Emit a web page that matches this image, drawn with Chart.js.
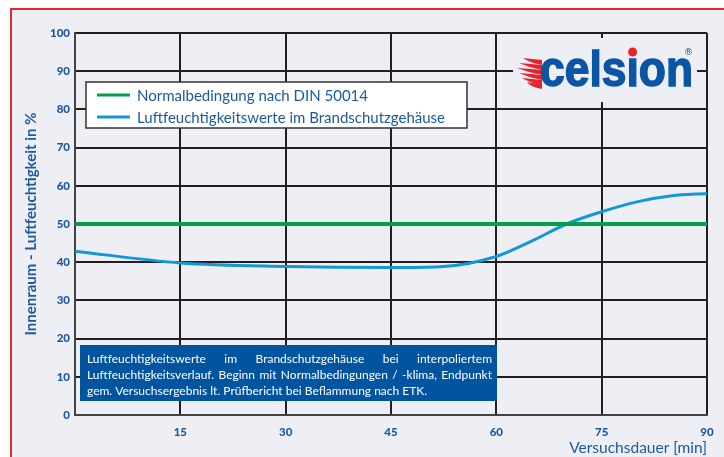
<!DOCTYPE html>
<html>
<head>
<meta charset="utf-8">
<script src="https://cdn.jsdelivr.net/npm/chart.js@4.4.1/dist/chart.umd.min.js"></script>
<style>
  html, body { margin: 0; padding: 0; background: #fff; }
  #chart { display: block; }
</style>
</head>
<body>
<canvas id="chart" width="724" height="457"></canvas>
<script>
// chart data
const minutes = [0, 15, 30, 45, 52, 60, 65, 70, 75, 80, 85, 90];
const humidity = [42.9, 39.8, 38.9, 38.6, 38.8, 41.5, 45.5, 50.0, 53.2, 55.8, 57.4, 58.0];
const normMinutes = [0, 90];
const normHumidity = [50, 50];
const seriesLabels = ['Normalbedingung nach DIN 50014', 'Luftfeuchtigkeitswerte im Brandschutzgehäuse'];
const noteLines = [
    'Luftfeuchtigkeitswerte im Brandschutzgehäuse bei interpoliertem',
    'Luftfeuchtigkeitsverlauf. Beginn mit Normalbedingungen / -klima, Endpunkt',
    'gem. Versuchsergebnis lt. Prüfbericht bei Beflammung nach ETK.'
];
const yTitle = 'Innenraum - Luftfeuchtigkeit in %';
const xTitle = 'Versuchsdauer [min]';

const blueText = '#1b5aa3';
const gridColor = '#231f20';

// panel background with red frame
const panelPlugin = {
    id: 'panel',
    beforeDraw(chart) {
        const ctx = chart.ctx;
        ctx.save();
        ctx.fillStyle = '#ffffff';
        ctx.fillRect(0, 0, chart.width, chart.height);
        ctx.fillStyle = '#eeeff4';
        ctx.fillRect(11, 9, chart.width - 11, chart.height - 9);
        ctx.strokeStyle = '#e42832';
        ctx.lineWidth = 2;
        ctx.beginPath();
        ctx.moveTo(11, chart.height);
        ctx.lineTo(11, 9);
        ctx.lineTo(chart.width, 9);
        ctx.stroke();
        ctx.restore();
    }
};

// legend box, note box and logo drawn on top
const overlayPlugin = {
    id: 'overlay',
    afterDatasetsDraw(chart) {
        const ctx = chart.ctx;
        ctx.save();

        // legend
        ctx.fillStyle = '#ffffff';
        ctx.fillRect(86, 82, 381, 46);
        ctx.strokeStyle = '#333333';
        ctx.lineWidth = 1.5;
        ctx.strokeRect(86, 82, 381, 46);
        const rows = [95, 117];
        chart.data.datasets.forEach((ds, i) => {
            ctx.strokeStyle = ds.borderColor;
            ctx.lineWidth = 3;
            ctx.beginPath();
            ctx.moveTo(97, rows[i]);
            ctx.lineTo(130, rows[i]);
            ctx.stroke();
            ctx.fillStyle = blueText;
            ctx.font = '15px Lato';
            ctx.textBaseline = 'middle';
            ctx.fillText(ds.label, 137, rows[i] + 1);
        });

        // note box
        ctx.fillStyle = '#0054a0';
        ctx.fillRect(80, 345, 417, 56);
        ctx.fillStyle = '#ffffff';
        ctx.font = '12px Lato';
        ctx.textBaseline = 'middle';
        const left = 87, right = 492;
        noteLines.forEach((line, i) => {
            const y = 359 + i * 16;
            const words = line.split(' ');
            if (i < noteLines.length - 1) {
                const total = words.reduce((s, w) => s + ctx.measureText(w).width, 0);
                const gap = (right - left - total) / (words.length - 1);
                let x = left;
                words.forEach(w => {
                    ctx.fillText(w, x, y);
                    x += ctx.measureText(w).width + gap;
                });
            } else {
                ctx.fillText(line, left, y);
            }
        });

        // logo
        ctx.fillStyle = '#eeeff4';
        ctx.fillRect(513, 38, 184, 64);
        ctx.fillStyle = '#e8232d';
        const flames = [[62, 523], [67, 519], [72, 517], [77, 519], [82, 522], [86, 527]];
        flames.forEach(([fy, tip]) => {
            ctx.beginPath();
            ctx.moveTo(542, fy - 2);
            ctx.quadraticCurveTo(532, fy - 3, tip, fy - 4);
            ctx.quadraticCurveTo(530, fy + 1, 542, fy + 3);
            ctx.closePath();
            ctx.fill();
        });
        ctx.font = 'bold 50px "Liberation Sans"';
        ctx.textBaseline = 'alphabetic';
        const word = 'celsıon';
        const full = ctx.measureText(word).width;
        const sx = 153 / full;
        ctx.save();
        ctx.translate(540, 86);
        ctx.scale(sx, 1);
        ctx.fillStyle = '#0a55a5';
        ctx.strokeStyle = '#0a55a5';
        ctx.lineWidth = 1.5;
        ctx.fillText(word, 0, 0);
        ctx.strokeText(word, 0, 0);
        const dotX = ctx.measureText('cels').width + ctx.measureText('ı').width / 2;
        ctx.restore();
        ctx.fillStyle = '#e8232d';
        ctx.beginPath();
        ctx.arc(540 + dotX * sx, 52, 4.5, 0, Math.PI * 2);
        ctx.fill();
        ctx.fillStyle = '#0a55a5';
        ctx.font = '9px "DejaVu Sans"';
        ctx.textBaseline = 'middle';
        ctx.fillText('®', 684, 53);

        ctx.restore();
    }
};

new Chart(document.getElementById('chart'), {
    type: 'line',
    data: {
        datasets: [
            {
                label: seriesLabels[0],
                data: normMinutes.map((m, i) => ({ x: m, y: normHumidity[i] })),
                borderColor: '#00a14b',
                borderWidth: 4,
                pointRadius: 0
            },
            {
                label: seriesLabels[1],
                data: minutes.map((m, i) => ({ x: m, y: humidity[i] })),
                borderColor: '#1497d9',
                borderWidth: 3,
                pointRadius: 0,
                cubicInterpolationMode: 'monotone'
            }
        ]
    },
    options: {
        responsive: false,
        animation: false,
        devicePixelRatio: 1,
        layout: { padding: { top: 33, right: 17, left: 0, bottom: 0 } },
        plugins: {
            legend: { display: false },
            tooltip: { enabled: false }
        },
        scales: {
            x: {
                type: 'linear',
                min: 0,
                max: 90,
                afterFit(scale) { scale.height = 42; },
                ticks: {
                    stepSize: 15,
                    padding: 10,
                    color: blueText,
                    font: { family: 'Lato', weight: 900, size: 11.5 },
                    callback: v => v === 0 ? '' : v
                },
                grid: { color: gridColor, lineWidth: 2, drawTicks: false },
                border: { color: '#444', width: 2 },
                title: {
                    display: true,
                    text: xTitle,
                    align: 'end',
                    color: blueText,
                    font: { family: 'Lato', size: 15.5 },
                    padding: { top: 0, bottom: 0 }
                }
            },
            y: {
                min: 0,
                max: 100,
                afterFit(scale) { scale.width = 75; },
                ticks: {
                    stepSize: 10,
                    padding: 5,
                    color: blueText,
                    font: { family: 'Lato', weight: 900, size: 11.5 }
                },
                grid: { color: gridColor, lineWidth: 2, drawTicks: false },
                border: { color: '#444', width: 2 },
                title: {
                    display: true,
                    text: yTitle,
                    color: blueText,
                    font: { family: 'Lato', weight: 'bold', size: 15 },
                    padding: { top: 22, bottom: 0 }
                }
            }
        }
    },
    plugins: [panelPlugin, overlayPlugin]
});
</script>
</body>
</html>
